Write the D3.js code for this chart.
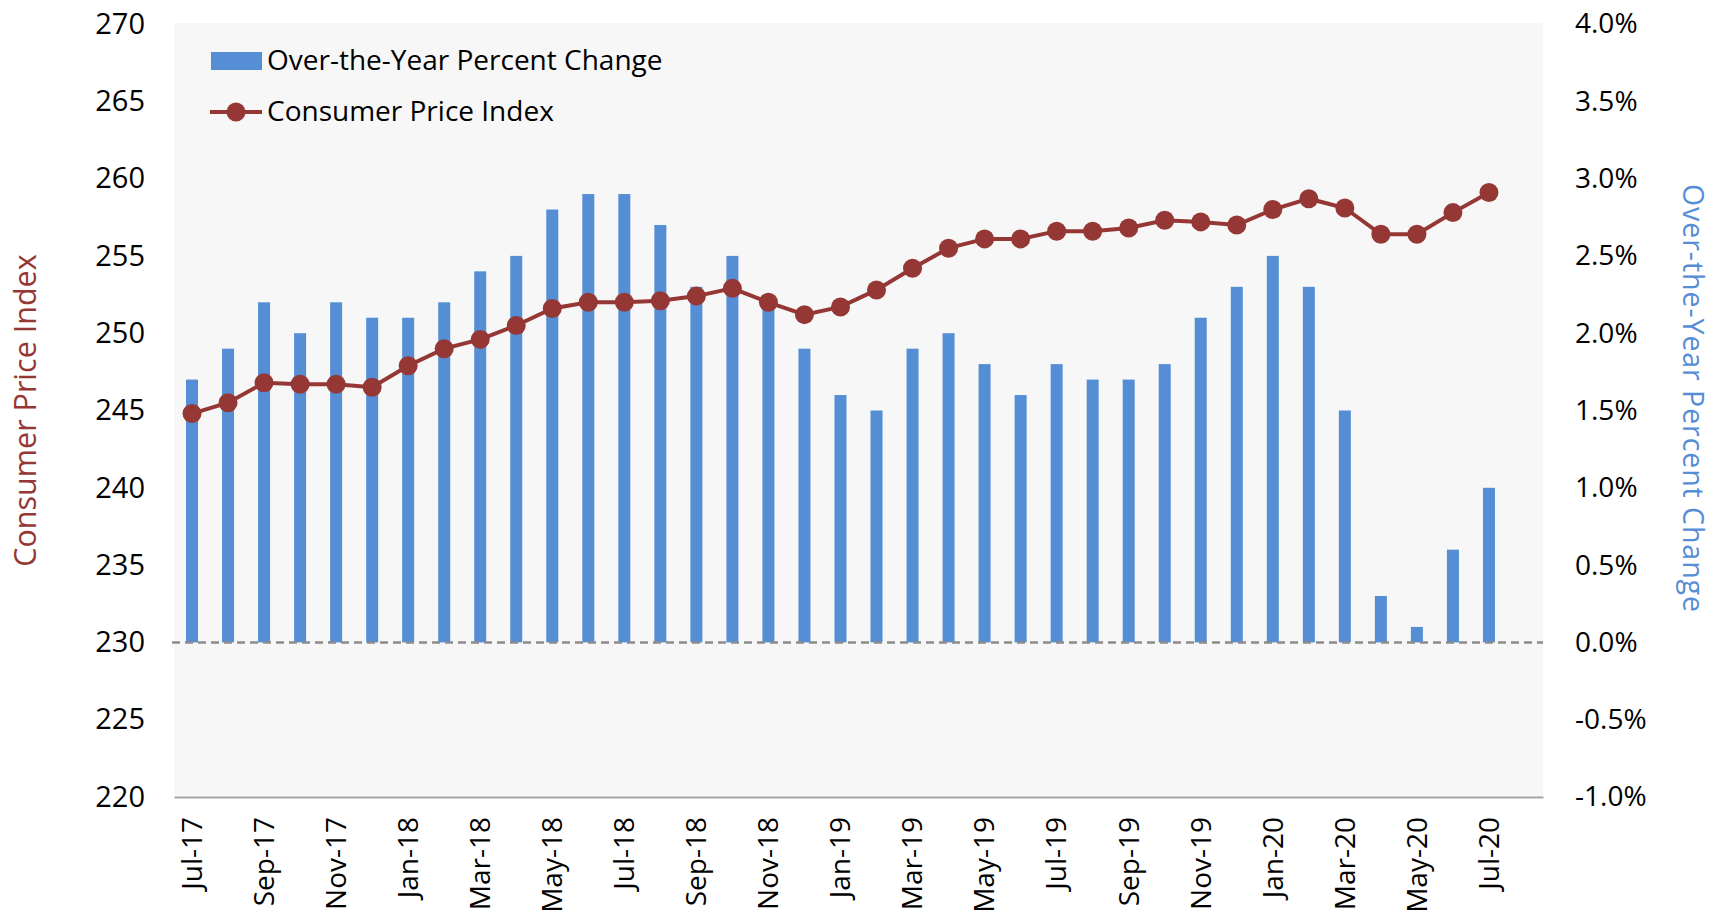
<!DOCTYPE html>
<html>
<head>
<meta charset="utf-8">
<script src="https://cdn.jsdelivr.net/npm/d3@7"></script>
<style>
  body { margin: 0; background: #fff; }
  svg { display: block; font-family: "Open Sans", "Noto Sans", sans-serif; }
</style>
</head>
<body>
<div id="chart"></div>
<script>
// monthly data, Jul-17 .. Jul-20
let months = ['Jul-17', 'Aug-17', 'Sep-17', 'Oct-17', 'Nov-17', 'Dec-17',
    'Jan-18', 'Feb-18', 'Mar-18', 'Apr-18', 'May-18', 'Jun-18', 'Jul-18', 'Aug-18', 'Sep-18', 'Oct-18', 'Nov-18', 'Dec-18',
    'Jan-19', 'Feb-19', 'Mar-19', 'Apr-19', 'May-19', 'Jun-19', 'Jul-19', 'Aug-19', 'Sep-19', 'Oct-19', 'Nov-19', 'Dec-19',
    'Jan-20', 'Feb-20', 'Mar-20', 'Apr-20', 'May-20', 'Jun-20', 'Jul-20'];

let cpi = [244.8, 245.5, 246.8, 246.7, 246.7, 246.5,
    247.9, 249.0, 249.6, 250.5, 251.6, 252.0, 252.0, 252.1, 252.4, 252.9, 252.0, 251.2,
    251.7, 252.8, 254.2, 255.5, 256.1, 256.1, 256.6, 256.6, 256.8, 257.3, 257.2, 257.0,
    258.0, 258.7, 258.1, 256.4, 256.4, 257.8, 259.1];

let pctChange = [1.7, 1.9, 2.2, 2.0, 2.2, 2.1,
    2.1, 2.2, 2.4, 2.5, 2.8, 2.9, 2.9, 2.7, 2.3, 2.5, 2.2, 1.9,
    1.6, 1.5, 1.9, 2.0, 1.8, 1.6, 1.8, 1.7, 1.7, 1.8, 2.1, 2.3,
    2.5, 2.3, 1.5, 0.3, 0.1, 0.6, 1.0];

let leftTicks = [220, 225, 230, 235, 240, 245, 250, 255, 260, 265, 270];
let rightTicks = [-1.0, -0.5, 0.0, 0.5, 1.0, 1.5, 2.0, 2.5, 3.0, 3.5, 4.0];
let xTickLabels = months.filter((d, i) => i % 2 === 0);

let W = 1716, H = 915;
let margin = ({top: 24, right: 173, bottom: 118, left: 174});
let plotW = 1543 - margin.left;
let plotH = 797 - margin.top;

let barColor = '#558ed5';
let lineColor = '#953735';

let svg = d3.select('#chart').append('svg')
    .attr('width', W)
    .attr('height', H);

let g = svg.append('g')
    .attr('transform', `translate(${margin.left}, ${margin.top})`);

// one empty slot after Jul-20, like the source chart
let slots = months.concat(['']);
let x = d3.scaleBand().domain(slots).range([0, plotW]);
let yL = d3.scaleLinear().domain([220, 270]).range([plotH, 0]);
let yR = d3.scaleLinear().domain([-1, 4]).range([plotH, 0]);

g.append('rect')
    .attr('x', 0).attr('y', -1)
    .attr('width', plotW).attr('height', plotH + 1)
    .attr('fill', '#f7f7f7');

// left axis
let leftAxis = g.append('g')
    .call(d3.axisLeft(yL).tickValues(leftTicks).tickSize(0).tickPadding(29).tickFormat(d3.format('d')));
leftAxis.select('.domain').remove();
leftAxis.selectAll('text')
    .attr('font-size', 29)
    .attr('fill', '#000')
    .attr('font-family', '"Open Sans", sans-serif');

// right axis
let rightAxis = g.append('g')
    .attr('transform', `translate(${plotW}, 0)`)
    .call(d3.axisRight(yR).tickValues(rightTicks).tickSize(0).tickPadding(32)
        .tickFormat(d => d.toFixed(1).replace('\u2212', '-') + '%'));
rightAxis.select('.domain').remove();
rightAxis.selectAll('text')
    .attr('font-size', 28)
    .attr('fill', '#000')
    .attr('font-family', '"Open Sans", sans-serif');

// bars
let barW = 12;
g.append('g')
    .selectAll('rect')
    .data(pctChange)
    .enter().append('rect')
    .attr('x', (d, i) => x(months[i]) + x.bandwidth() / 2 - barW / 2)
    .attr('y', d => yR(d))
    .attr('width', barW)
    .attr('height', d => yR(0) - yR(d))
    .attr('fill', barColor);

// zero line
g.append('line')
    .attr('x1', -2).attr('x2', plotW)
    .attr('y1', yR(0)).attr('y2', yR(0))
    .attr('stroke', '#8c8c8c')
    .attr('stroke-width', 2.5)
    .attr('stroke-dasharray', '8,5');

// bottom axis
let xAxis = g.append('g')
    .attr('transform', `translate(0, ${plotH})`)
    .call(d3.axisBottom(x).tickValues(xTickLabels).tickSize(0).tickPadding(0));
xAxis.select('.domain')
    .attr('stroke', '#a6a6a6')
    .attr('stroke-width', 2);
xAxis.selectAll('text')
    .attr('font-size', 28)
    .attr('fill', '#000')
    .attr('font-family', '"Open Sans", sans-serif')
    .attr('text-anchor', 'end')
    .attr('dy', '0.35em')
    .attr('transform', 'translate(0, 20) rotate(-90)')
    .attr('x', 0)
    .attr('y', 0);

// CPI line
let line = d3.line()
    .x((d, i) => x(months[i]) + x.bandwidth() / 2)
    .y(d => yL(d));

g.append('path')
    .datum(cpi)
    .attr('fill', 'none')
    .attr('stroke', lineColor)
    .attr('stroke-width', 4)
    .attr('d', line);

g.append('g')
    .selectAll('circle')
    .data(cpi)
    .enter().append('circle')
    .attr('cx', (d, i) => x(months[i]) + x.bandwidth() / 2)
    .attr('cy', d => yL(d))
    .attr('r', 9.5)
    .attr('fill', lineColor);

// axis titles
svg.append('text')
    .attr('transform', `translate(36, ${margin.top + plotH / 2}) rotate(-90)`)
    .attr('text-anchor', 'middle')
    .attr('font-size', 30.5)
    .attr('fill', lineColor)
    .text('Consumer Price Index');

svg.append('text')
    .attr('transform', `translate(1683, ${398}) rotate(90)`)
    .attr('text-anchor', 'middle')
    .attr('font-size', 28.5)
    .attr('textLength', 428)
    .attr('lengthAdjust', 'spacing')
    .attr('fill', barColor)
    .text('Over-the-Year Percent Change');

// legend
let legend = svg.append('g');
legend.append('rect')
    .attr('x', 211).attr('y', 52)
    .attr('width', 51).attr('height', 18)
    .attr('fill', barColor);
legend.append('text')
    .attr('x', 267).attr('y', 60)
    .attr('dy', '0.35em')
    .attr('font-size', 28)
    .text('Over-the-Year Percent Change');

legend.append('line')
    .attr('x1', 210).attr('x2', 262)
    .attr('y1', 112).attr('y2', 112)
    .attr('stroke', lineColor)
    .attr('stroke-width', 4);
legend.append('circle')
    .attr('cx', 236).attr('cy', 112)
    .attr('r', 9.5)
    .attr('fill', lineColor);
legend.append('text')
    .attr('x', 267).attr('y', 111)
    .attr('dy', '0.35em')
    .attr('font-size', 28)
    .text('Consumer Price Index');
</script>
</body>
</html>
